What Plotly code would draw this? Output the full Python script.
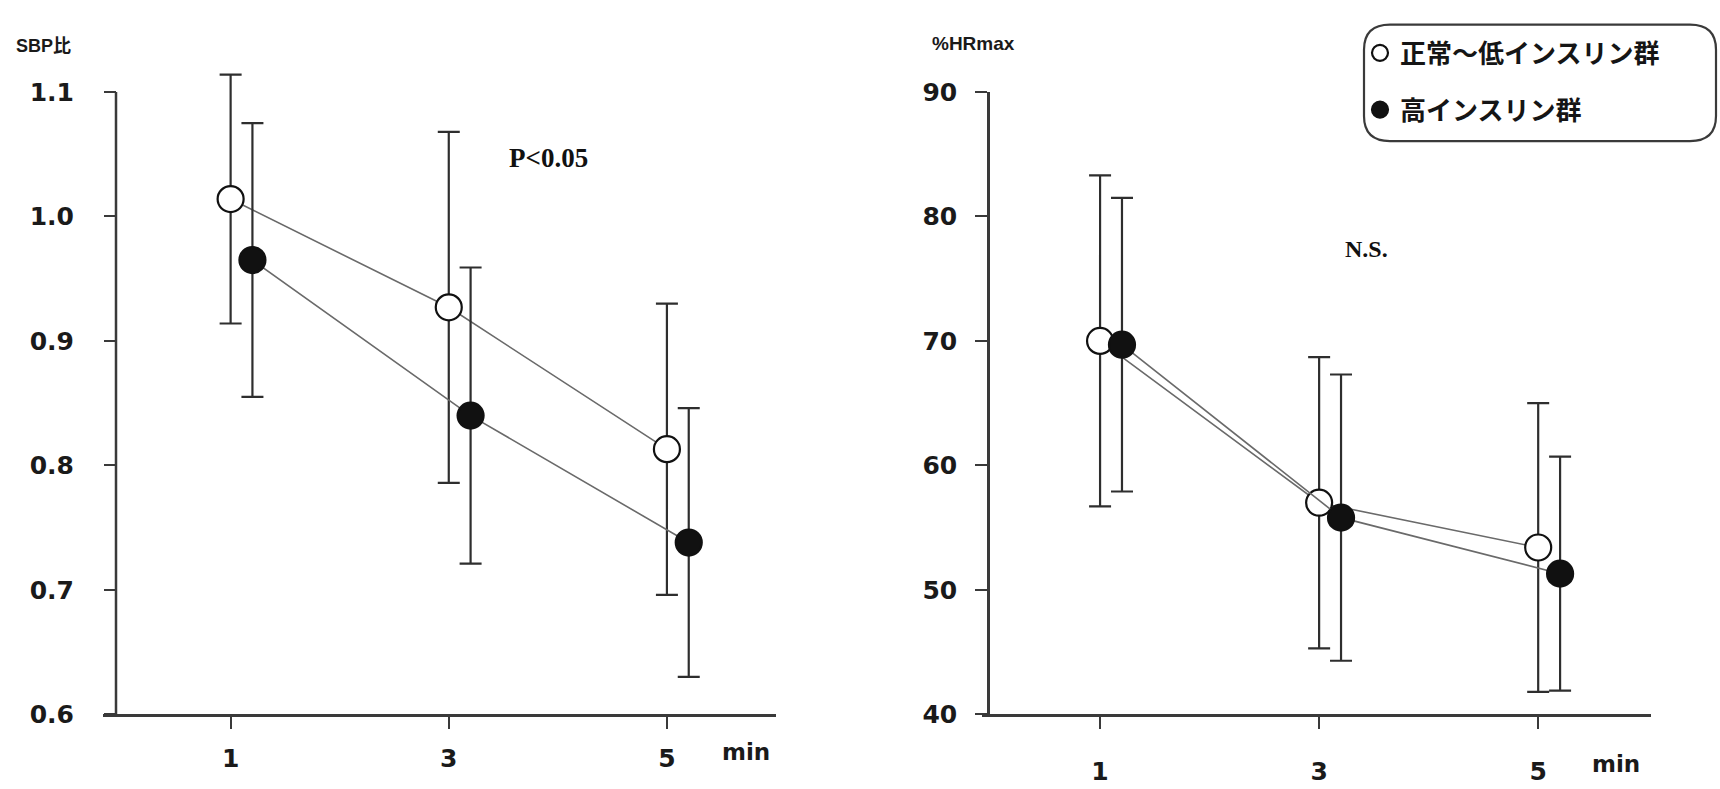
import plotly.graph_objects as go

# ---------------- data ----------------
minutes = [1, 3, 5]
minute_labels = ["1", "3", "5"]

sbp_normal = [1.014, 0.927, 0.813]
sbp_normal_err = [0.100, 0.141, 0.117]
sbp_high = [0.965, 0.840, 0.738]
sbp_high_err = [0.110, 0.119, 0.108]

hr_normal = [70.0, 57.0, 53.4]
hr_normal_err = [13.3, 11.7, 11.6]
hr_high = [69.7, 55.8, 51.3]
hr_high_err = [11.8, 11.5, 9.4]

sbp_ticks = [0.6, 0.7, 0.8, 0.9, 1.0, 1.1]
hr_ticks = [40, 50, 60, 70, 80, 90]

name_normal = "正常〜低インスリン群"
name_high = "高インスリン群"

# ---------------- styling ----------------
W, H = 1720, 789
DODGE = 0.2
def px(x):
    return x / W
def py(y):
    return 1 - y / H

TICK_FONT = dict(family="DejaVu Sans", size=25, color="#1a1a1a", weight="bold")
AX_COLOR = "#3a3a3a"
LINE_COLOR = "#6a6a6a"
ERR_COLOR = "#2e2e2e"
MSIZE = 26

fig = go.Figure()

def add_series(x, y, err, xa, ya, filled):
    fig.add_trace(go.Scatter(
        x=x, y=y, xaxis=xa, yaxis=ya, mode="lines+markers",
        showlegend=False, cliponaxis=False,
        line=dict(color=LINE_COLOR, width=1.6),
        marker=dict(size=MSIZE, symbol="circle",
                    color="#111111" if filled else "white",
                    line=dict(color="#111111", width=2.2)),
        error_y=dict(type="data", array=err, visible=True,
                     color=ERR_COLOR, thickness=2.2, width=11),
    ))

x_open = list(minutes)
x_fill = [m + DODGE for m in minutes]

add_series(x_open, sbp_normal, sbp_normal_err, "x", "y", False)
add_series(x_fill, sbp_high, sbp_high_err, "x", "y", True)
add_series(x_open, hr_normal, hr_normal_err, "x2", "y2", False)
add_series(x_fill, hr_high, hr_high_err, "x2", "y2", True)

# legend-only entries
fig.add_trace(go.Scatter(x=[None], y=[None], mode="markers", name=name_normal,
                         legendgroup="a",
                         marker=dict(size=22, color="white", line=dict(color="#111", width=2.2))))
fig.add_trace(go.Scatter(x=[None], y=[None], mode="markers", name=name_high,
                         legendgroup="b",
                         marker=dict(size=22, color="#111", line=dict(color="#111", width=2.2))))

y_bottom = 727
y_top = 81
scale_left = (y_bottom - y_top) / 0.5          # px per unit
left_top_val = 1.125
left_top_px = y_bottom - (left_top_val - 0.6) * scale_left

axis_common = dict(showgrid=False, zeroline=False,
                   linecolor=AX_COLOR, linewidth=2.5, ticks="outside",
                   ticklen=12, tickwidth=2.2, tickcolor=AX_COLOR,
                   tickfont=TICK_FONT)

fig.update_layout(
    width=W, height=H, margin=dict(l=0, r=0, t=0, b=0),
    paper_bgcolor="white", plot_bgcolor="white",
    xaxis=dict(domain=[px(103), px(776)], range=[-0.17, 6.0], showline=True,
               tickvals=minutes, ticktext=minute_labels, anchor="y",
               ticklabelstandoff=8, **axis_common),
    yaxis=dict(domain=[py(y_bottom), py(left_top_px)], range=[0.6, left_top_val],
               tickvals=sbp_ticks, showline=False,
               tickformat=".1f", anchor="free", position=px(116),
               ticklabelstandoff=25, **axis_common),
    xaxis2=dict(domain=[px(982), px(1651)], range=[-0.078, 6.03], showline=True,
                tickvals=minutes, ticktext=minute_labels, anchor="y2",
                ticklabelstandoff=21, **axis_common),
    yaxis2=dict(domain=[py(y_bottom), py(y_top)], range=[40, 90], tickvals=hr_ticks,
                anchor="free", position=px(988), showline=True,
                ticklabelstandoff=13, **axis_common),
    legend=dict(x=px(1360), y=py(16), xanchor="left", yanchor="top",
                bgcolor="rgba(0,0,0,0)", borderwidth=0,
                traceorder="grouped", tracegroupgap=20,
                font=dict(family="Noto Sans CJK JP", size=26, color="#151515", weight="bold"),
                itemsizing="trace"),
)

# left y-axis line (stops at 1.1 like the original)
fig.add_shape(type="line", xref="paper", yref="y", x0=px(116), x1=px(116),
              y0=sbp_ticks[0], y1=sbp_ticks[-1],
              line=dict(color=AX_COLOR, width=2.5))

ann_font_sans = dict(family="Liberation Sans, Noto Sans CJK JP", size=19, color="#1a1a1a", weight="bold")
serif = dict(family="Liberation Serif", size=27, color="#111", weight="bold")
fig.add_annotation(text="SBP比", xref="paper", yref="paper", x=px(14), y=py(33),
                   xanchor="left", yanchor="middle", showarrow=False, font=dict(ann_font_sans, size=18))
fig.add_annotation(text="%HRmax", xref="paper", yref="paper", x=px(930), y=py(31),
                   xanchor="left", yanchor="middle", showarrow=False, font=ann_font_sans)
fig.add_annotation(text="P<0.05", xref="paper", yref="paper", x=px(548), y=py(150),
                   xanchor="center", yanchor="middle", showarrow=False, font=serif)
fig.add_annotation(text="N.S.", xref="paper", yref="paper", x=px(1366), y=py(244),
                   xanchor="center", yanchor="middle", showarrow=False,
                   font=dict(serif, size=24))
fig.add_annotation(text="min", xref="paper", yref="paper", x=px(746), y=py(766),
                   xanchor="center", yanchor="middle", showarrow=False, font=dict(TICK_FONT, size=23))
fig.add_annotation(text="min", xref="paper", yref="paper", x=px(1616), y=py(779),
                   xanchor="center", yanchor="middle", showarrow=False, font=dict(TICK_FONT, size=23))

# rounded legend box
bx0, by0, bx1, by1, r = 1364, 11, 1716, 132, 26
path = (f"M {px(bx0 + r)} {py(by0)} L {px(bx1 - r)} {py(by0)} "
        f"Q {px(bx1)} {py(by0)} {px(bx1)} {py(by0 + r)} "
        f"L {px(bx1)} {py(by1 - r)} Q {px(bx1)} {py(by1)} {px(bx1 - r)} {py(by1)} "
        f"L {px(bx0 + r)} {py(by1)} Q {px(bx0)} {py(by1)} {px(bx0)} {py(by1 - r)} "
        f"L {px(bx0)} {py(by0 + r)} Q {px(bx0)} {py(by0)} {px(bx0 + r)} {py(by0)} Z")
fig.add_shape(type="path", path=path, xref="paper", yref="paper",
              line=dict(color="#3a3a3a", width=2.2))

fig.write_html("out.html")
